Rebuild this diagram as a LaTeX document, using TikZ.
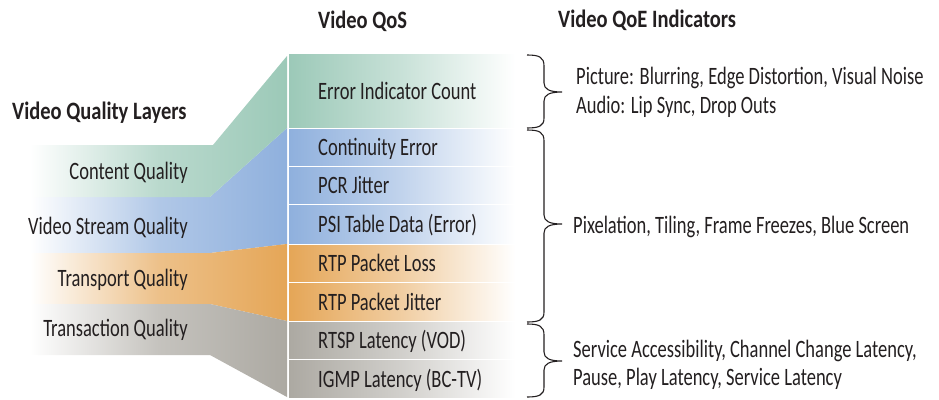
\documentclass[tikz,border=0pt]{standalone}
\usepackage{fontspec}
\setmainfont{Carlito}[FakeStretch=0.74, BoldFeatures={FakeStretch=0.82}]
\usetikzlibrary{calc}
\definecolor{cGreen}{HTML}{9CC9B8}
\definecolor{cBlue}{HTML}{8FB0DD}
\definecolor{cOrange}{HTML}{E5A657}
\definecolor{cGray}{HTML}{ACA9A2}
\definecolor{ink}{HTML}{231F20}
\begin{document}
\begin{tikzpicture}[x=1pt,y=-1pt,
  band/.style={left color=white, right color=#1, middle color=#1!70},
  rowbox/.style={draw=none, left color=#1, right color=white, middle color=#1!55, minimum width=226pt, inner sep=0pt, anchor=north west},
  qtext/.style={font=\fontsize{25}{28}\selectfont, text=ink, inner sep=0pt, text height=17pt, text depth=0pt},
  head/.style={font=\fontsize{25}{28}\selectfont\bfseries, text=ink, inner sep=0pt, text height=17pt, text depth=0pt, anchor=west},
  bracestyle/.style={draw=ink, line width=1.1pt}]
\useasboundingbox (0,0) rectangle (939,399);
% layer bands
\shade[band=cBlue] (30,197) -- (210,197) -- (287,128) -- (287,244) -- (210,253) -- (30,253) -- cycle;
\shade[band=cGreen] (30,145) -- (213,145) -- (287,56) -- (287,128) -- (210,197) -- (30,197) -- cycle;
\shade[band=cOrange] (30,253) -- (210,253) -- (287,244) -- (287,321) -- (210,304) -- (30,304) -- cycle;
\shade[band=cGray] (30,304) -- (210,304) -- (287,321) -- (287,397) -- (210,355) -- (30,355) -- cycle;
% QoS rows
\node[rowbox=cGreen, minimum height=73pt] (r1) at (289,54) {};
\node[rowbox=cBlue, minimum height=36pt] (r2) at (289,129) {};
\node[rowbox=cBlue, minimum height=36pt] (r3) at (289,167) {};
\node[rowbox=cBlue, minimum height=38pt] (r4) at (289,205) {};
\node[rowbox=cOrange, minimum height=36pt] (r5) at (289,245) {};
\node[rowbox=cOrange, minimum height=37pt] (r6) at (289,283) {};
\node[rowbox=cGray, minimum height=36pt] (r7) at (289,322) {};
\node[rowbox=cGray, minimum height=37pt] (r8) at (289,360) {};
\node[qtext, anchor=west] (t1) at ([xshift=29pt]r1.west) {Error Indicator Count};
\node[qtext, anchor=west] (t2) at ([xshift=29pt]r2.west) {Continuity Error};
\node[qtext, anchor=west] (t3) at ([xshift=29pt]r3.west) {PCR Jitter};
\node[qtext, anchor=west] (t4) at ([xshift=29pt]r4.west) {PSI Table Data (Error)};
\node[qtext, anchor=west] (t5) at ([xshift=29pt]r5.west) {RTP Packet Loss};
\node[qtext, anchor=west] (t6) at ([xshift=29pt]r6.west) {RTP Packet Jitter};
\node[qtext, anchor=west] (t7) at ([xshift=29pt]r7.west) {RTSP Latency (VOD)};
\node[qtext, anchor=west] (t8) at ([xshift=29pt]r8.west) {IGMP Latency (BC-TV)};
% headers
\node[head] (hq) at (318,20) {Video QoS};
\node[head] (he) at (558,19) {Video QoE Indicators};
\node[head] (hl) at (12,111) {Video Quality Layers};
% layer labels
\node[qtext, anchor=east] (l1) at (188,171) {Content Quality};
\node[qtext, anchor=east] (l2) at (188,226) {Video Stream Quality};
\node[qtext, anchor=east] (l3) at (188,278) {Transport Quality};
\node[qtext, anchor=east] (l4) at (188,328) {Transaction Quality};
% braces
\draw[bracestyle] (527,55) .. controls (539,55) and (544,57) .. (544,66) -- (544,83)
  .. controls (544,89) and (549,92) .. (562,92)
  .. controls (549,92) and (544,95) .. (544,101) -- (544,118)
  .. controls (544,126) and (539,128) .. (527,128);
\draw[bracestyle] (527,130) .. controls (539,130) and (544,132) .. (544,141) -- (544,215)
  .. controls (544,221) and (549,224) .. (562,224)
  .. controls (549,224) and (544,227) .. (544,233) -- (544,312)
  .. controls (544,320) and (539,322) .. (527,322);
\draw[bracestyle] (527,324) .. controls (539,324) and (544,326) .. (544,335) -- (544,352)
  .. controls (544,358) and (549,361) .. (562,361)
  .. controls (549,361) and (544,364) .. (544,370) -- (544,387)
  .. controls (544,395) and (539,397) .. (527,397);
% QoE texts
\node[qtext, anchor=west] (e1) at (576,76) {Picture: Blurring, Edge Distortion, Visual Noise};
\node[qtext, anchor=west] (e2) at (576,105) {Audio: Lip Sync, Drop Outs};
\node[qtext, anchor=west] (e3) at (573,225) {Pixelation, Tiling, Frame Freezes, Blue Screen};
\node[qtext, anchor=west] (e4) at (573,349) {Service Accessibility, Channel Change Latency,};
\node[qtext, anchor=west] (e5) at (573,377) {Pause, Play Latency, Service Latency};
\end{tikzpicture}
\end{document}
